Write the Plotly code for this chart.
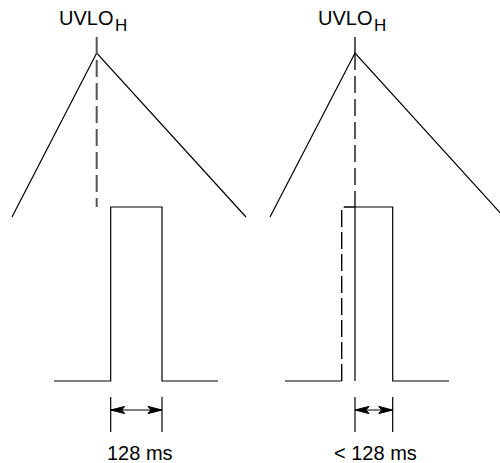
import plotly.graph_objects as go

# --- data (diagram coordinates, pixel-like units: x right, y down) ---
# Left panel
tri_left_x = [12, 96.7, 246]
tri_left_y = [217, 53, 217]
mark_left_x = [96.7, 96.7]
mark_left_y = [37, 207]
pulse_left_x = [54, 110.7, 110.7, 162, 162, 218]
pulse_left_y = [381, 381, 207, 207, 381, 381]
dim_left_x = [110.7, 162]

# Right panel
tri_right_x = [270, 355, 504]
tri_right_y = [217, 53, 217]
stub_right_x = [355, 355]
stub_right_y = [37, 53]
mark_right_x = [355, 355]
mark_right_y = [53, 207]
low_right_x = [285, 341.7]
low_right_y = [381, 381]
pulse_right_dash_x = [341.7, 341.7, 355]
pulse_right_dash_y = [381, 207, 207]
pulse_right_x = [355, 355, 392.7, 392.7, 449]
pulse_right_y = [381, 207, 207, 381, 381]
dim_right_x = [355, 392.7]

dim_tick_y = [397, 432]
dim_arrow_y = 410

label_main = "UVLO"
label_sub = "H"
labels_main_x = [85.5, 344.5]
labels_sub_x = [113.5, 372.5]
labels_bottom = ["128 ms", "< 128 ms"]
labels_bottom_x = [140, 375]

FONT = "Arial, Liberation Sans, Helvetica, sans-serif"

fig = go.Figure()


def line(xs, ys, color="black", width=1.2, dash="solid"):
    fig.add_trace(go.Scatter(x=xs, y=ys, mode="lines",
                             line=dict(color=color, width=width, dash=dash),
                             hoverinfo="skip"))


def arrowhead(tip_x, y, direction, length=14, half=3.6, notch=3):
    # direction: +1 means head points to the right (tip at right)
    bx = tip_x - direction * length
    nx = tip_x - direction * (length - notch)
    xs = [tip_x, bx, nx, bx, tip_x]
    ys = [y, y - half, y, y + half, y]
    fig.add_trace(go.Scatter(x=xs, y=ys, mode="lines", fill="toself",
                             fillcolor="black",
                             line=dict(color="black", width=1),
                             hoverinfo="skip"))


def dimension(xs):
    x0, x1 = xs
    line([x0, x0], dim_tick_y, width=1.2)
    line([x1, x1], dim_tick_y, width=1.2)
    line([x0, x1], [dim_arrow_y, dim_arrow_y], width=1.2)
    arrowhead(x0, dim_arrow_y, -1)
    arrowhead(x1, dim_arrow_y, +1)


# Left panel
line(tri_left_x, tri_left_y)
line(mark_left_x, mark_left_y, color="#555", width=2, dash="17px,6px")
line(pulse_left_x, pulse_left_y)
dimension(dim_left_x)

# Right panel
line(tri_right_x, tri_right_y)
line(stub_right_x, stub_right_y, width=1.3)
line(mark_right_x, mark_right_y, width=1.3, dash="17px,6px")
line(low_right_x, low_right_y)
line(pulse_right_dash_x, pulse_right_dash_y, width=1.4, dash="17px,5px")
line(pulse_right_x, pulse_right_y)
dimension(dim_right_x)

for xm, xs in zip(labels_main_x, labels_sub_x):
    fig.add_annotation(x=xm, y=17.5, text=label_main, showarrow=False,
                       xanchor="center", yanchor="middle", borderpad=0,
                       font=dict(family=FONT, size=20, color="black"))
    fig.add_annotation(x=xs, y=25, text=label_sub, showarrow=False,
                       xanchor="left", yanchor="middle", borderpad=0,
                       font=dict(family=FONT, size=17, color="black"))
for t, x in zip(labels_bottom, labels_bottom_x):
    fig.add_annotation(x=x, y=453, text=t, showarrow=False,
                       xanchor="center", yanchor="middle", borderpad=0,
                       font=dict(family=FONT, size=20, color="black"))

fig.update_layout(
    width=500, height=463,
    margin=dict(l=0, r=0, t=0, b=0),
    paper_bgcolor="white", plot_bgcolor="white",
    showlegend=False,
    xaxis=dict(range=[0, 500], visible=False, fixedrange=True),
    yaxis=dict(range=[463, 0], visible=False, fixedrange=True),
)

fig.write_html(
    "out.html",
    config={"displayModeBar": False},
    post_script="document.body.style.margin='0';document.body.style.padding='0';",
)
